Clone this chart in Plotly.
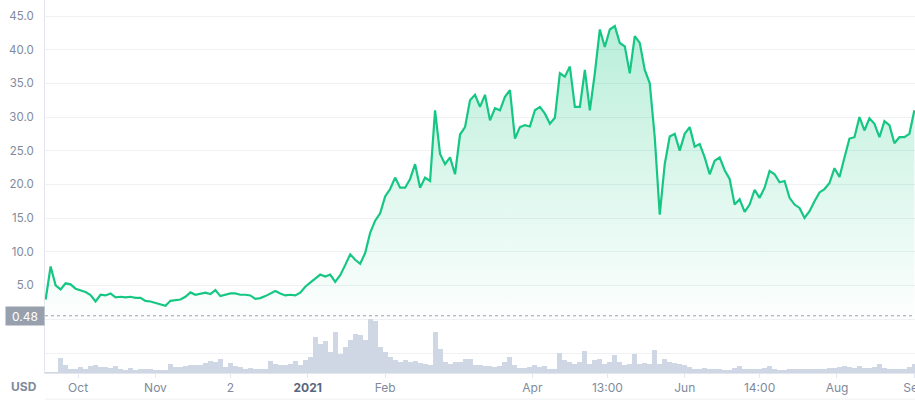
import pandas as pd
import plotly.graph_objects as go

# ---- data (one value every 2 days) ----
start_date = "2020-09-18"
price = [
    2.9, 7.8, 5.0, 4.4, 5.3, 5.15, 4.5, 4.3, 4.0, 3.55,
    2.6, 3.6, 3.5, 3.8, 3.2, 3.3, 3.2, 3.3, 3.15, 3.15,
    2.7, 2.6, 2.4, 2.2, 1.95, 2.7, 2.8, 2.9, 3.3, 3.95,
    3.6, 3.8, 3.9, 3.7, 4.3, 3.4, 3.6, 3.8, 3.8, 3.6,
    3.6, 3.5, 3.0, 3.1, 3.4, 3.8, 4.15, 3.8, 3.5, 3.6,
    3.5, 3.9, 4.8, 5.4, 6.0, 6.6, 6.3, 6.6, 5.5, 6.5,
    8.0, 9.6, 8.8, 8.2, 9.8, 12.8, 14.6, 15.7, 18.2, 19.3,
    21.0, 19.5, 19.5, 20.8, 23.0, 19.5, 21.0, 20.5, 31.0, 24.5,
    23.0, 24.0, 21.5, 27.4, 28.5, 32.5, 33.3, 31.5, 33.3, 29.5,
    31.3, 31.0, 33.0, 34.0, 26.8, 28.5, 28.8, 28.6, 31.0, 31.5,
    30.5, 29.0, 29.9, 36.5, 36.0, 37.5, 31.5, 31.5, 37.0, 31.0,
    36.5, 43.0, 40.4, 43.0, 43.5, 41.0, 40.5, 36.5, 42.0, 41.0,
    37.0, 35.0, 27.0, 15.5, 23.0, 27.1, 27.5, 25.0, 27.5, 28.5,
    25.6, 26.0, 24.0, 21.5, 23.5, 24.0, 22.1, 20.8, 17.0, 17.8,
    15.9, 17.0, 19.2, 18.0, 19.5, 22.0, 21.5, 20.3, 20.5, 18.0,
    17.0, 16.5, 15.0, 16.0, 17.5, 18.8, 19.3, 20.2, 22.4, 21.1,
    24.0, 26.8, 27.0, 30.0, 28.0, 29.8, 29.0, 27.0, 29.4, 28.8,
    26.1, 27.0, 27.0, 27.5, 31.0,
]
volume = [
    5, 5, 5, 79, 40, 22, 22, 31, 22, 36,
    40, 31, 31, 28, 34, 22, 17, 26, 17, 22,
    19, 22, 14, 17, 14, 45, 31, 31, 34, 40,
    43, 40, 52, 62, 57, 74, 31, 52, 34, 31,
    22, 26, 22, 22, 22, 60, 48, 43, 40, 45,
    60, 43, 66, 83, 186, 152, 166, 109, 212, 100,
    134, 169, 203, 195, 169, 281, 272, 134, 109, 83,
    66, 57, 66, 57, 60, 52, 48, 40, 212, 126,
    57, 48, 57, 57, 74, 74, 40, 40, 34, 34,
    31, 34, 57, 83, 40, 26, 26, 31, 40, 31,
    36, 22, 22, 103, 66, 57, 48, 57, 114, 48,
    69, 74, 48, 57, 91, 57, 40, 48, 100, 48,
    52, 48, 121, 48, 74, 57, 52, 48, 40, 31,
    22, 22, 26, 22, 22, 19, 17, 17, 28, 38,
    22, 19, 19, 22, 28, 36, 22, 17, 17, 19,
    19, 19, 19, 19, 21, 22, 21, 24, 24, 31,
    34, 31, 28, 34, 26, 26, 31, 45, 26, 22,
    22, 21, 22, 31, 45,
]
current_price = 0.48
price_ticks = [0, 5, 10, 15, 20, 25, 30, 35, 40, 45]
x_tick_dates = ["2020-10-01", "2020-11-01", "2020-12-01", "2021-01-01", "2021-02-01",
                "2021-04-01", "2021-05-01", "2021-06-01", "2021-07-01", "2021-08-01",
                "2021-09-01"]
x_tick_labels = ["Oct", "Nov", "2", "2021", "Feb", "Apr", "13:00", "Jun", "14:00", "Aug", "Sep"]

dates = pd.date_range(start_date, periods=len(price), freq="2D")

GREEN = "#16c784"
GRID = "#eff1f4"
TXT = "#808a9d"
FONT = "Inter"

fig = go.Figure()

fig.add_trace(go.Bar(
    x=dates, y=volume, yaxis="y2",
    marker=dict(color="#cfd6e4", line=dict(width=0)),
    hoverinfo="skip", showlegend=False,
))

fig.add_trace(go.Scatter(
    x=dates, y=price, mode="lines",
    line=dict(color=GREEN, width=2.2),
    fill="tozeroy",
    fillgradient=dict(type="vertical",
                      colorscale=[[0, "rgba(22,199,132,0.01)"], [1, "rgba(22,199,132,0.30)"]]),
    hoverinfo="skip", showlegend=False,
))

ticktext_x = [f'<span style="color:#58667e"><b>{t}</b></span>' if t == "2021" else t
              for t in x_tick_labels]

fig.update_layout(
    width=915, height=400,
    margin=dict(l=45, r=0, t=0, b=27),
    paper_bgcolor="white", plot_bgcolor="white",
    font=dict(family=FONT, size=12, color=TXT),
    bargap=0,
    xaxis=dict(
        type="date",
        range=["2020-09-17 18:00", "2021-09-01 06:00"],
        tickvals=x_tick_dates, ticktext=ticktext_x,
        showgrid=False, showline=True, linecolor="#e3e6ec", linewidth=1,
        ticks="outside", ticklen=4, tickcolor="#e3e6ec",
        tickfont=dict(family=FONT, size=12, color=TXT),
        ticklabeloverflow="allow",
        automargin=False, zeroline=False,
    ),
    yaxis=dict(
        range=[-8.02, 47.38],
        tickvals=price_ticks,
        ticktext=["" if v == 0 else f"{v:.1f}" for v in price_ticks],
        showgrid=True, gridcolor=GRID, gridwidth=1,
        showline=True, linecolor="#e3e6ec", linewidth=1,
        zeroline=False, ticks="", ticklabelstandoff=8,
        tickfont=dict(family=FONT, size=11.5, color=TXT),
        automargin=False,
    ),
    yaxis2=dict(
        overlaying="y", range=[0, 1933],
        tickvals=[100], showticklabels=False,
        showgrid=True, gridcolor=GRID, zeroline=False, showline=False,
    ),
    shapes=[
        dict(type="line", xref="paper", x0=0, x1=1, yref="y", y0=current_price, y1=current_price,
             line=dict(color="#9aa1ae", width=1, dash="dot")),
        dict(type="line", xref="paper", x0=0, x1=1, yref="paper", y0=-0.07, y1=-0.07,
             line=dict(color="#eef0f3", width=1)),
    ],
    annotations=[
        dict(xref="paper", yref="y", x=0, y=current_price, xanchor="right", yanchor="middle",
             text=f"{current_price:.2f}", showarrow=False, bgcolor="#989fad",
             font=dict(family=FONT, size=12, color="white"), width=34, height=14,
             borderpad=2),
        dict(xref="paper", yref="paper", x=-0.0245, y=-0.0375, xanchor="center", yanchor="middle",
             text="<b>USD</b>", showarrow=False,
             font=dict(family=FONT, size=12, color="#808a9d")),
    ],
)

fig.write_html("out.html", config={"displayModeBar": False})
